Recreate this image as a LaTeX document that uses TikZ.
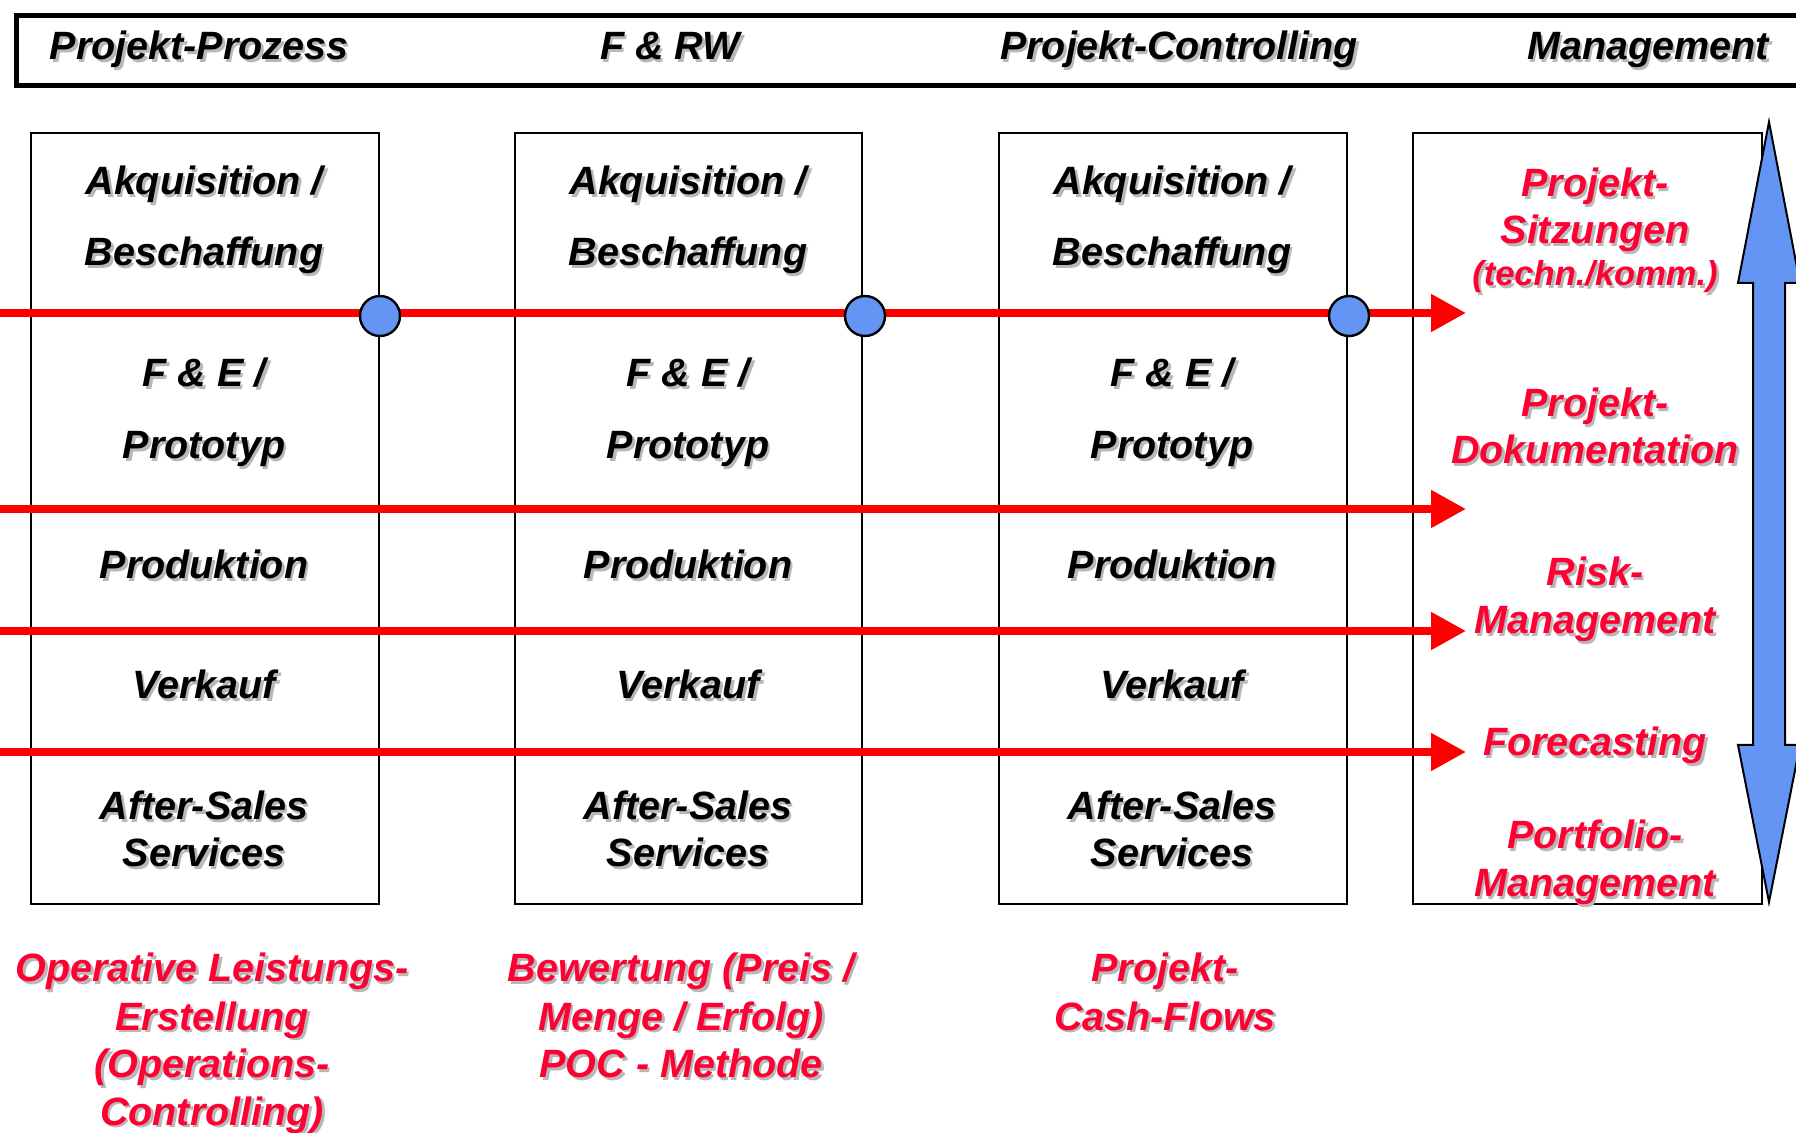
\documentclass[tikz,border=0pt]{standalone}
\usepackage{fontspec}
\setmainfont{Liberation Sans}
\usetikzlibrary{arrows.meta}

\definecolor{flowred}{RGB}{255,0,0}
\definecolor{txtred}{RGB}{255,0,51}
\definecolor{mgmtblue}{RGB}{100,149,245}

% text with a light drop shadow: name, position, style, text
\newcommand{\shtxt}[4]{%
  \node[#3, text=black!28, xshift=1.3pt, yshift=-1.3pt] (#1-sh) at (#2) {#4};
  \node[#3] (#1) at (#2) {#4};}

\tikzset{
  txt/.style={font=\fontsize{19.75}{24}\selectfont\bfseries\itshape, inner sep=0pt, anchor=base},
  redtxt/.style={txt, text=txtred},
  smalltxt/.style={redtxt, font=\fontsize{17.25}{20}\selectfont\bfseries\itshape},
  colbox/.style={draw, line width=1.2pt, inner sep=0pt},
  flow/.style={draw=flowred, line width=4pt, -{Triangle[length=17.5pt,width=18pt]}},
  gate/.style={circle, draw, line width=1.2pt, fill=mgmtblue, minimum size=20pt, inner sep=0pt}
}

\begin{document}
\begin{tikzpicture}[x=0.5pt, y=-0.5pt]
  \useasboundingbox (0,0) rectangle (1796,1133);

  % header
  \node[draw, line width=2.5pt, minimum width=908pt, minimum height=35pt, inner sep=0pt, anchor=north west] (head) at (14,13) {};
  \shtxt{h1}{199,60}{txt}{Projekt-Prozess}
  \shtxt{h2}{670,60}{txt}{F \& RW}
  \shtxt{h3}{1179,60}{txt}{Projekt-Controlling}
  \shtxt{h4}{1648,60}{txt}{Management}

  % columns
  \node[colbox, minimum width=174pt, minimum height=385.5pt, anchor=north west] (pp) at (30,132) {};
  \node[colbox, minimum width=173.5pt, minimum height=385.5pt, anchor=north west] (rw) at (514,132) {};
  \node[colbox, minimum width=174pt, minimum height=385.5pt, anchor=north west] (pc) at (998,132) {};
  \node[colbox, minimum width=174.5pt, minimum height=385.5pt, anchor=north west] (mg) at (1412,132) {};

  \foreach \x/\n in {204/pp, 688/rw, 1172/pc}{
    \shtxt{\n-akq}{\x,195}{txt}{Akquisition /}
    \shtxt{\n-bes}{\x,266}{txt}{Beschaffung}
    \shtxt{\n-fe}{\x,387}{txt}{F \& E /}
    \shtxt{\n-pro}{\x,459}{txt}{Prototyp}
    \shtxt{\n-prd}{\x,579}{txt}{Produktion}
    \shtxt{\n-ver}{\x,699}{txt}{Verkauf}
    \shtxt{\n-as}{\x,820}{txt}{After-Sales}
    \shtxt{\n-ser}{\x,867}{txt}{Services}
  }

  % flows
  \coordinate (in1) at (0,313);   \coordinate (out1) at (1466,313);
  \coordinate (in2) at (0,509);   \coordinate (out2) at (1466,509);
  \coordinate (in3) at (0,631);   \coordinate (out3) at (1466,631);
  \coordinate (in4) at (0,752);   \coordinate (out4) at (1466,752);
  \draw[flow] (in1) -- (out1);
  \draw[flow] (in2) -- (out2);
  \draw[flow] (in3) -- (out3);
  \draw[flow] (in4) -- (out4);

  \node[gate] (g1) at (380,316) {};
  \node[gate] (g2) at (865,316) {};
  \node[gate] (g3) at (1349,316) {};

  % management
  \shtxt{m1}{1595,197}{redtxt}{Projekt-}
  \shtxt{m2}{1595,244}{redtxt}{Sitzungen}
  \shtxt{m3}{1595,286}{smalltxt}{(techn./komm.)}
  \shtxt{m4}{1595,417}{redtxt}{Projekt-}
  \shtxt{m5}{1595,464}{redtxt}{Dokumentation}
  \shtxt{m6}{1595,586}{redtxt}{Risk-}
  \shtxt{m7}{1595,634}{redtxt}{Management}
  \shtxt{m8}{1595,756}{redtxt}{Forecasting}
  \shtxt{m9}{1595,849}{redtxt}{Portfolio-}
  \shtxt{m10}{1595,897}{redtxt}{Management}

  \draw[fill=mgmtblue, line width=1pt] (1769,122) -- (1800,283) -- (1785,283) -- (1785,745)
    -- (1800,745) -- (1769,902) -- (1738,745) -- (1753,745) -- (1753,283) -- (1738,283) -- cycle;

  % below
  \shtxt{b1}{212,982}{redtxt}{Operative Leistungs-}
  \shtxt{b2}{212,1030}{redtxt}{Erstellung}
  \shtxt{b3}{212,1078}{redtxt}{(Operations-}
  \shtxt{b4}{212,1125}{redtxt}{Controlling)}
  \shtxt{b5}{681,982}{redtxt}{Bewertung (Preis /}
  \shtxt{b6}{681,1030}{redtxt}{Menge / Erfolg)}
  \shtxt{b7}{681,1078}{redtxt}{POC - Methode}
  \shtxt{b8}{1165,982}{redtxt}{Projekt-}
  \shtxt{b9}{1165,1030}{redtxt}{Cash-Flows}

\end{tikzpicture}
\end{document}
